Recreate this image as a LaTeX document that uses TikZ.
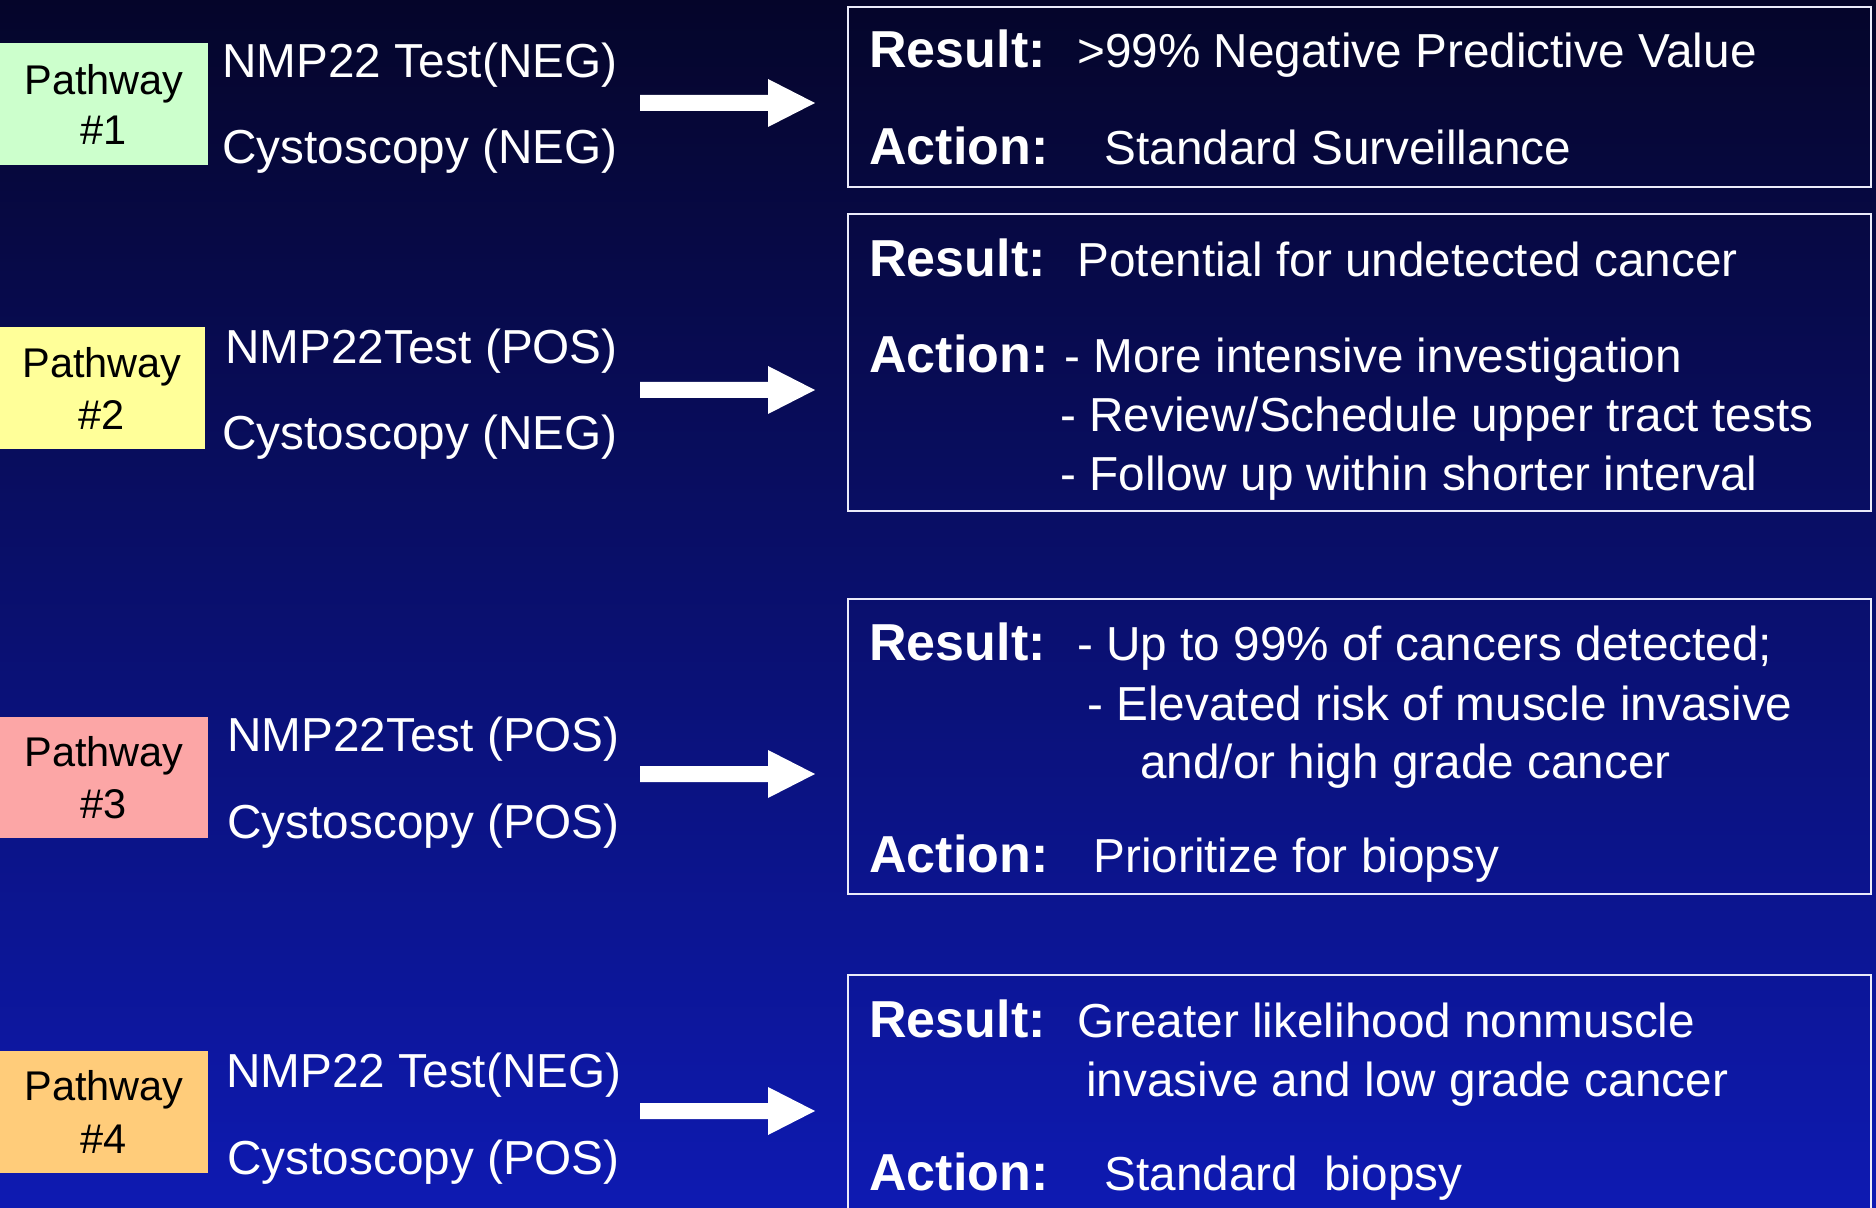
\documentclass[tikz,border=0pt]{standalone}
\usepackage{fontspec}
\setmainfont{Liberation Sans}
\usetikzlibrary{fit,calc}
\definecolor{bgtop}{RGB}{5,5,42}
\definecolor{bgmid}{RGB}{11,20,128}
\definecolor{bgbot}{RGB}{14,26,178}
\definecolor{pwone}{RGB}{204,255,204}
\definecolor{pwtwo}{RGB}{255,255,153}
\definecolor{pwthree}{RGB}{252,166,166}
\definecolor{pwfour}{RGB}{255,204,122}
\definecolor{boxline}{RGB}{235,235,250}
\begin{document}
\begin{tikzpicture}[x=0.5pt,y=-0.5pt,
  txt/.style={text=white, font=\fontsize{23.85}{28}\selectfont, anchor=base west, inner sep=0pt},
  hd/.style={text=white, font=\bfseries\fontsize{26}{30}\selectfont, anchor=base west, inner sep=0pt},
  ptxt/.style={text=black, font=\fontsize{20.75}{24}\selectfont, anchor=base, inner sep=0pt},
  pbox/.style={inner sep=0pt, draw=none},
  resbox/.style={draw=boxline, line width=1.2pt, inner sep=0pt},
  blockarrow/.style={fill=white, draw=none}
]
\useasboundingbox (0,0) rectangle (1876,1208);
\clip (0,0) rectangle (1876,1208);
\shade[top color=bgtop, middle color=bgmid, bottom color=bgbot] (0,0) rectangle (1876,1208);

% ---------- Pathway boxes ----------
\node[pbox, fill=pwone, fit={(0,43) (208,165)}] (p1) {};
\node[ptxt] (p1a) at (104,95) {Pathway};
\node[ptxt] (p1b) at (104,145) {\#1};

\node[pbox, fill=pwtwo, fit={(0,327) (205,449)}] (p2) {};
\node[ptxt] (p2a) at (102,378) {Pathway};
\node[ptxt] (p2b) at (102,430) {\#2};

\node[pbox, fill=pwthree, fit={(0,717) (208,838)}] (p3) {};
\node[ptxt] (p3a) at (104,767) {Pathway};
\node[ptxt] (p3b) at (104,818) {\#3};

\node[pbox, fill=pwfour, fit={(0,1051) (208,1173)}] (p4) {};
\node[ptxt] (p4a) at (104,1100) {Pathway};
\node[ptxt] (p4b) at (104,1153) {\#4};

% ---------- test texts ----------
\node[txt] (n1) at (222,78) {NMP22 Test(NEG)};
\node[txt] (c1) at (222,164) {Cystoscopy (NEG)};
\node[txt] (n2) at (225,364) {NMP22Test (POS)};
\node[txt] (c2) at (222,450) {Cystoscopy (NEG)};
\node[txt] (n3) at (227,752) {NMP22Test (POS)};
\node[txt] (c3) at (227,838) {Cystoscopy (POS)};
\node[txt] (n4) at (226,1087) {NMP22 Test(NEG)};
\node[txt] (c4) at (227,1174) {Cystoscopy (POS)};

% ---------- arrows ----------
\foreach \i/\yy in {1/103, 2/390, 3/774, 4/1111} {
  \coordinate (t\i) at (640,\yy);
  \fill[blockarrow] (t\i) ++(0,-8) -- ++(128,0) -- ++(0,-16) -- ++(47,24)
     -- ++(-47,24) -- ++(0,-16) -- ++(-128,0) -- cycle;
}

% ---------- result boxes ----------
\node[resbox, fit={(848,7) (1871,187)}] (b1) {};
\node[resbox, fit={(848,214) (1871,511)}] (b2) {};
\node[resbox, fit={(848,599) (1871,894)}] (b3) {};
\node[resbox, fit={(848,975) (1871,1250)}] (b4) {};

% box 1
\node[hd] (r1) at (869,68) {Result:};
\node[txt] (r1t) at (1077,68) {>99\% Negative Predictive Value};
\node[hd] (a1) at (869,165) {Action:};
\node[txt] (a1t) at (1104,165) {Standard Surveillance};

% box 2
\node[hd] (r2) at (869,277) {Result:};
\node[txt] (r2t) at (1077,277) {Potential for undetected cancer};
\node[hd] (a2) at (869,373) {Action:};
\node[txt] (a2t) at (1064,373) {- More intensive investigation};
\node[txt] (a2u) at (1060,432) {- Review/Schedule upper tract tests};
\node[txt] (a2v) at (1060,491) {- Follow up within shorter interval};

% box 3
\node[hd] (r3) at (869,661) {Result:};
\node[txt] (r3t) at (1077,661) {- Up to 99\% of cancers detected;};
\node[txt] (r3u) at (1087,720) {- Elevated risk of muscle invasive};
\node[txt] (r3v) at (1140,778) {and/or high grade cancer};
\node[hd] (a3) at (869,872) {Action:};
\node[txt] (a3t) at (1093,872) {Prioritize for biopsy};

% box 4
\node[hd] (r4) at (869,1037) {Result:};
\node[txt] (r4t) at (1077,1037) {Greater likelihood nonmuscle};
\node[txt] (r4u) at (1086,1096) {invasive and low grade cancer};
\node[hd] (a4) at (869,1190) {Action:};
\node[txt] (a4t) at (1104,1190) {Standard\ \ biopsy};
\end{tikzpicture}
\end{document}
